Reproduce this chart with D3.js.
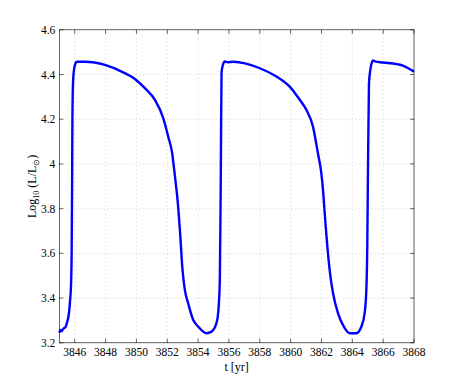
<!DOCTYPE html>
<html><head><meta charset="utf-8">
<script src="https://cdn.jsdelivr.net/npm/d3@7"></script>
<style>body{margin:0;background:#fff}svg{display:block}text{font-family:"Liberation Serif","Times New Roman",serif;fill:#000}</style>
</head><body><svg id="c" width="457" height="387"></svg>
<script>
const tYears = [3845.00,3845.08,3845.15,3845.25,3845.40,3845.52,3845.62,3845.70,3845.76,3845.80,3845.83,3845.85,3845.89,3845.95,3846.05,3846.13,3846.66,3847.96,3849.04,3849.90,3850.55,3851.20,3851.74,3852.06,3852.32,3852.45,3852.60,3852.67,3852.82,3852.99,3853.14,3853.35,3853.68,3854.00,3854.55,3854.87,3855.19,3855.30,3855.41,3855.47,3855.52,3855.60,3855.73,3855.93,3856.27,3858.00,3859.08,3859.94,3860.59,3861.02,3861.45,3861.77,3861.99,3862.10,3862.21,3862.42,3862.58,3862.75,3863.07,3863.39,3863.83,3864.26,3864.59,3864.80,3864.91,3864.97,3865.01,3865.08,3865.19,3865.34,3865.51,3865.98,3867.28,3867.71,3868.00];
const logL = [3.245,3.258,3.252,3.262,3.270,3.295,3.330,3.390,3.460,3.600,3.900,4.200,4.363,4.420,4.450,4.457,4.457,4.443,4.413,4.380,4.339,4.287,4.205,4.123,4.048,3.974,3.884,3.837,3.705,3.526,3.437,3.378,3.303,3.273,3.243,3.250,3.288,3.333,3.482,3.929,4.410,4.440,4.458,4.455,4.457,4.428,4.391,4.346,4.287,4.242,4.167,4.048,3.959,3.884,3.780,3.601,3.497,3.422,3.333,3.280,3.243,3.243,3.273,3.333,3.437,3.631,3.929,4.360,4.430,4.463,4.458,4.454,4.440,4.425,4.413];
const xTicks = [3846,3848,3850,3852,3854,3856,3858,3860,3862,3864,3866,3868];
const yTicks = [3.2,3.4,3.6,3.8,4,4.2,4.4,4.6];

const svg = d3.select("#c");
const L = 59.3, R = 414, T = 29.8, B = 342.8;
const x = d3.scaleLinear().domain([3845, 3868]).range([L, R]);
const y = d3.scaleLinear().domain([3.2, 4.6]).range([B, T]);

const g = svg.append("g");
// grid
g.selectAll(".gx").data(xTicks).enter().append("line")
  .attr("x1", d => x(d)).attr("x2", d => x(d)).attr("y1", T).attr("y2", B)
  .attr("stroke", "#c8c8c8").attr("stroke-width", 0.8).attr("stroke-dasharray", "1,3");
g.selectAll(".gy").data(yTicks).enter().append("line")
  .attr("x1", L).attr("x2", R).attr("y1", d => y(d)).attr("y2", d => y(d))
  .attr("stroke", "#c8c8c8").attr("stroke-width", 0.8).attr("stroke-dasharray", "1,3");

// ticks inward on all sides
const tl = 4;
xTicks.forEach(d => {
  g.append("line").attr("x1", x(d)).attr("x2", x(d)).attr("y1", B).attr("y2", B - tl).attr("stroke", "#000").attr("stroke-width", 0.6);
  g.append("line").attr("x1", x(d)).attr("x2", x(d)).attr("y1", T).attr("y2", T + tl).attr("stroke", "#000").attr("stroke-width", 0.6);
  g.append("text").attr("x", x(d)).attr("y", B + 13).attr("text-anchor", "middle").attr("font-size", 11.5).text(d);
});
yTicks.forEach(d => {
  g.append("line").attr("x1", L).attr("x2", L + tl).attr("y1", y(d)).attr("y2", y(d)).attr("stroke", "#000").attr("stroke-width", 0.6);
  g.append("line").attr("x1", R).attr("x2", R - tl).attr("y1", y(d)).attr("y2", y(d)).attr("stroke", "#000").attr("stroke-width", 0.6);
  g.append("text").attr("x", L - 4).attr("y", y(d)).attr("dy", "0.35em").attr("text-anchor", "end").attr("font-size", 11.5).text(d);
});

// data line
const line = d3.line().x((d, i) => x(tYears[i])).y(d => y(d)).curve(d3.curveMonotoneX);
svg.append("path").attr("d", line(logL)).attr("fill", "none").attr("stroke", "#0000ff").attr("stroke-width", 2.4).attr("stroke-linejoin", "round");

// box
svg.append("rect").attr("x", L).attr("y", T).attr("width", R - L).attr("height", B - T)
  .attr("fill", "none").attr("stroke", "#000").attr("stroke-width", 0.6);

// labels
svg.append("text").attr("x", (L + R) / 2).attr("y", 371).attr("text-anchor", "middle").attr("font-size", 12).text("t [yr]");
const yl = svg.append("text").attr("transform", "translate(36," + ((T + B) / 2) + ") rotate(-90)")
  .attr("text-anchor", "middle").attr("font-size", 12);
yl.append("tspan").text("Log");
yl.append("tspan").attr("font-size", 8).attr("dy", 3).text("10");
yl.append("tspan").attr("dy", -3).text(" (L/L");
yl.append("tspan").attr("font-size", 8).attr("dy", 3).text("\u2299");
yl.append("tspan").attr("dy", -3).text(")");
</script></body></html>
